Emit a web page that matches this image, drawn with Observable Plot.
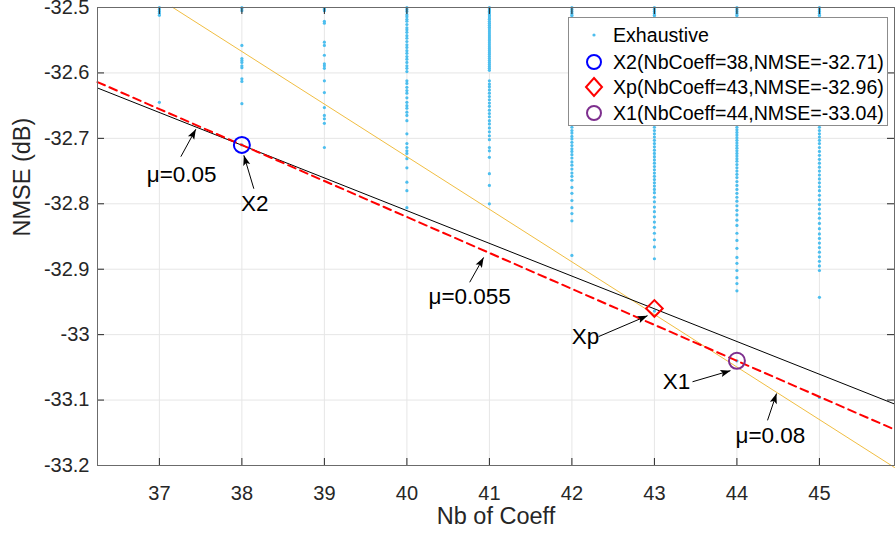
<!DOCTYPE html>
<html>
<head>
<meta charset="utf-8">
<script src="https://cdn.jsdelivr.net/npm/d3@7"></script>
<script src="https://cdn.jsdelivr.net/npm/@observablehq/plot@0.6"></script>
<style>
  html, body { margin: 0; padding: 0; background: #fff; }
  #wrap { position: relative; width: 895px; height: 540px; font-family: 'Liberation Sans', Arial, sans-serif; }
  .legend { position: absolute; left: 568px; top: 17px; width: 320px; height: 109px; border: 1px solid #8c8c8c; background: #fff; box-sizing: border-box; }
  .row { position: absolute; left: 0; height: 24px; width: 100%; }
  .row svg { position: absolute; left: 14px; top: 1px; }
  .row span { position: absolute; left: 44px; top: 0; font-size: 19.6px; line-height: 24px; color: #000; white-space: nowrap; }
</style>
</head>
<body>
<div id="wrap"></div>
<script>
// ---- axes ----
const xTicks = [37, 38, 39, 40, 41, 42, 43, 44, 45];
const xTickLabels = ["37", "38", "39", "40", "41", "42", "43", "44", "45"];
const yTicks = [-32.5, -32.6, -32.7, -32.8, -32.9, -33, -33.1, -33.2];
const yTickLabels = ["-32.5", "-32.6", "-32.7", "-32.8", "-32.9", "-33", "-33.1", "-33.2"];
const xDomain = [36.25, 45.91];
const yDomain = [-33.2, -32.5];

// ---- exhaustive search results (NMSE per NbCoeff column) ----
const nmse37 = [-32.500, -32.503, -32.506, -32.509, -32.512, -32.645];
const nmse38 = [-32.500, -32.502, -32.505, -32.558, -32.578, -32.581, -32.584, -32.589, -32.592, -32.609, -32.613, -32.647, -32.710];
const nmse39 = [-32.502, -32.503, -32.505, -32.521, -32.524, -32.553, -32.558, -32.573, -32.586, -32.589, -32.593, -32.612, -32.630, -32.653, -32.665, -32.670, -32.677, -32.714];
const nmse40 = [-32.500, -32.503, -32.506, -32.511, -32.514, -32.518, -32.521, -32.526, -32.531, -32.534, -32.538, -32.543, -32.547, -32.552, -32.557, -32.561, -32.566, -32.570, -32.575, -32.579, -32.584, -32.589, -32.593, -32.598, -32.612, -32.616, -32.622, -32.627, -32.631, -32.638, -32.645, -32.650, -32.654, -32.660, -32.665, -32.673, -32.693, -32.708, -32.714, -32.719, -32.723, -32.731, -32.745, -32.767, -32.780, -32.806];
const nmse41 = [-32.500, -32.502, -32.504, -32.506, -32.508, -32.511, -32.513, -32.516, -32.518, -32.521, -32.524, -32.527, -32.530, -32.533, -32.536, -32.539, -32.542, -32.545, -32.548, -32.551, -32.554, -32.557, -32.560, -32.563, -32.566, -32.569, -32.572, -32.575, -32.578, -32.581, -32.584, -32.587, -32.590, -32.593, -32.596, -32.612, -32.617, -32.621, -32.626, -32.631, -32.636, -32.641, -32.646, -32.651, -32.657, -32.662, -32.667, -32.673, -32.678, -32.684, -32.690, -32.696, -32.702, -32.714, -32.719, -32.729, -32.754, -32.772, -32.800];
const nmse42 = [-32.500, -32.503, -32.506, -32.509, -32.512, -32.515, -32.683, -32.688, -32.692, -32.697, -32.701, -32.706, -32.711, -32.716, -32.720, -32.725, -32.730, -32.736, -32.741, -32.747, -32.753, -32.758, -32.764, -32.775, -32.784, -32.795, -32.806, -32.815, -32.826, -32.879];
const nmse43 = [-32.500, -32.503, -32.506, -32.509, -32.512, -32.515, -32.683, -32.688, -32.693, -32.698, -32.703, -32.708, -32.713, -32.718, -32.723, -32.728, -32.733, -32.738, -32.743, -32.748, -32.753, -32.758, -32.763, -32.768, -32.773, -32.778, -32.783, -32.790, -32.797, -32.805, -32.812, -32.820, -32.828, -32.836, -32.845, -32.855, -32.866, -32.884, -32.964];
const nmse44 = [-32.500, -32.503, -32.506, -32.509, -32.512, -32.515, -32.683, -32.687, -32.691, -32.695, -32.699, -32.703, -32.707, -32.711, -32.715, -32.719, -32.723, -32.727, -32.731, -32.735, -32.740, -32.745, -32.750, -32.755, -32.760, -32.766, -32.772, -32.778, -32.784, -32.790, -32.796, -32.803, -32.810, -32.817, -32.825, -32.833, -32.845, -32.856, -32.868, -32.882, -32.891, -32.902, -32.913, -32.922, -32.933, -33.040];
const nmse45 = [-32.500, -32.503, -32.506, -32.509, -32.512, -32.515, -32.683, -32.688, -32.693, -32.698, -32.703, -32.708, -32.714, -32.720, -32.726, -32.732, -32.738, -32.744, -32.750, -32.756, -32.762, -32.768, -32.774, -32.780, -32.787, -32.794, -32.801, -32.808, -32.815, -32.822, -32.830, -32.838, -32.846, -32.853, -32.860, -32.867, -32.874, -32.881, -32.888, -32.895, -32.902, -32.943, -33.096];
const columns = [37, 38, 39, 40, 41, 42, 43, 44, 45];
const columnValues = [nmse37, nmse38, nmse39, nmse40, nmse41, nmse42, nmse43, nmse44, nmse45];

// ---- fitted lines (endpoints) ----
const lineMu005X = [36.25, 45.91];
const lineMu005Y = [-32.623, -33.106];
const lineMu0055X = [36.25, 45.91];
const lineMu0055Y = [-32.614, -33.145];
const lineMu008X = [37.163, 45.91];
const lineMu008Y = [-32.5, -33.203];

// ---- highlighted points ----
const ptNames = ["X2", "Xp", "X1"];
const ptX = [38, 43, 44];
const ptY = [-32.71, -32.96, -33.04];
const legendLabels = ["Exhaustive", "X2(NbCoeff=38,NMSE=-32.71)", "Xp(NbCoeff=43,NMSE=-32.96)", "X1(NbCoeff=44,NMSE=-33.04)"];

// ---- annotations ----
const annText = ["μ=0.05", "X2", "μ=0.055", "Xp", "X1", "μ=0.08"];
const annX = [37.27, 38.157, 40.761, 42.165, 43.268, 44.406];
const annY = [-32.755, -32.800, -32.942, -33.004, -33.072, -33.154];
const arrX1 = [37.26, 38.145, 40.761, 42.323, 43.462, 44.371];
const arrY1 = [-32.728, -32.777, -32.920, -33.003, -33.072, -33.131];
const arrX2 = [37.442, 38.024, 40.930, 42.917, 43.922, 44.480];
const arrY2 = [-32.686, -32.726, -32.882, -32.971, -33.055, -33.090];

// build tables
const exhaustive = [];
columns.forEach((c, i) => columnValues[i].forEach(v => exhaustive.push({x: c, y: v})));
const mkLine = (xs, ys) => xs.map((x, i) => ({x, y: ys[i]}));
const points = ptNames.map((n, i) => ({name: n, x: ptX[i], y: ptY[i]}));
const anns = annText.map((t, i) => ({text: t, x: annX[i], y: annY[i]}));
const arrows = arrX1.map((x, i) => ({x1: x, y1: arrY1[i], x2: arrX2[i], y2: arrY2[i]}));

const blue = "#0000ff", red = "#ff0000", purple = "#7e2f8e", cyan = "#4dbeee", orange = "#edb120";
const gridColor = "#e6e6e6", axisColor = "#262626";

const baseOptions = {
  width: 895,
  height: 540,
  marginLeft: 97,
  marginRight: 1,
  marginTop: 7,
  marginBottom: 75,
  style: {fontFamily: "'Liberation Sans', Arial, sans-serif", fontSize: "20px", color: axisColor, background: "#fff", overflow: "visible"},
  x: {domain: xDomain, ticks: xTicks, tickSize: 0, tickPadding: 20, tickFormat: d => xTickLabels[xTicks.indexOf(d)], label: null},
  y: {domain: yDomain, ticks: yTicks, tickSize: 0, tickPadding: 8, tickFormat: d => yTickLabels[yTicks.findIndex(t => Math.abs(t - d) < 1e-9)], label: null}
};

// first pass: obtain the scales to orient the filled arrowheads on screen
const probe = Plot.plot({...baseOptions, marks: [Plot.frame()]});
const sx = probe.scale("x"), sy = probe.scale("y");
arrows.forEach(a => {
  const dx = sx.apply(a.x2) - sx.apply(a.x1);
  const dy = sy.apply(a.y2) - sy.apply(a.y1);
  a.angle = Math.atan2(dx, -dy) * 180 / Math.PI;
});
const arrowHead = {
  draw(ctx, size) {
    ctx.moveTo(0, 0);
    ctx.lineTo(-3.6, 10);
    ctx.lineTo(0, 8);
    ctx.lineTo(3.6, 10);
    ctx.closePath();
  }
};

const chart = Plot.plot({
  ...baseOptions,
  marks: [
    Plot.ruleX(xTicks, {x: d => d, stroke: gridColor, strokeWidth: 1}),
    Plot.ruleY(yTicks, {y: d => d, stroke: gridColor, strokeWidth: 1}),
    Plot.dot(exhaustive, {x: "x", y: "y", r: 1.6, fill: cyan, stroke: "none"}),
    Plot.line(mkLine(lineMu008X, lineMu008Y), {x: "x", y: "y", stroke: orange, strokeWidth: 1, strokeOpacity: 0.85}),
    Plot.line(mkLine(lineMu005X, lineMu005Y), {x: "x", y: "y", stroke: "#000", strokeWidth: 1}),
    Plot.line(mkLine(lineMu0055X, lineMu0055Y), {x: "x", y: "y", stroke: red, strokeWidth: 2, strokeDasharray: "8,5"}),
    Plot.dot(points.filter(d => d.name === "X2"), {x: "x", y: "y", r: 8, stroke: blue, strokeWidth: 2, fill: "none"}),
    Plot.dot(points.filter(d => d.name === "Xp"), {x: "x", y: "y", r: 7.5, symbol: "diamond2", stroke: red, strokeWidth: 2, fill: "none"}),
    Plot.dot(points.filter(d => d.name === "X1"), {x: "x", y: "y", r: 8, stroke: purple, strokeWidth: 2, fill: "none"}),
    Plot.link(arrows, {x1: "x1", y1: "y1", x2: "x2", y2: "y2", stroke: "#000", strokeWidth: 1}),
    Plot.dot(arrows, {x: "x2", y: "y2", symbol: arrowHead, rotate: "angle", r: 4, fill: "#000", stroke: "none"}),
    Plot.text(anns, {x: "x", y: "y", text: "text", fontSize: 22.5, fill: "#000", textAnchor: "middle", lineAnchor: "middle"}),
    // inward tick marks on all four sides
    Plot.tickX(xTicks, {x: d => d, insetTop: 451, stroke: axisColor}),
    Plot.tickX(xTicks, {x: d => d, insetBottom: 451, stroke: axisColor}),
    Plot.tickY(yTicks, {y: d => d, insetRight: 790, stroke: axisColor}),
    Plot.tickY(yTicks, {y: d => d, insetLeft: 790, stroke: axisColor}),
    Plot.frame({stroke: "#6b6b6b", strokeWidth: 1}),
    Plot.text(["Nb of Coeff"], {frameAnchor: "bottom", dy: 58, fontSize: 23.5, fill: axisColor}),
    Plot.text(["NMSE (dB)"], {frameAnchor: "left", dx: -75, rotate: -90, fontSize: 23.5, fill: axisColor})
  ]
});

const wrap = document.getElementById("wrap");
wrap.appendChild(chart);

// legend overlay
const legend = document.createElement("div");
legend.className = "legend";
const rowTops = [5, 32, 57, 83];
const svgNS = "http://www.w3.org/2000/svg";
legendLabels.forEach((lab, i) => {
  const row = document.createElement("div");
  row.className = "row";
  row.style.top = rowTops[i] + "px";
  const s = document.createElementNS(svgNS, "svg");
  s.setAttribute("width", 22); s.setAttribute("height", 22);
  let el;
  if (i === 0) {
    el = document.createElementNS(svgNS, "circle");
    el.setAttribute("cx", 11); el.setAttribute("cy", 11); el.setAttribute("r", 1.6);
    el.setAttribute("fill", cyan);
  } else if (i === 2) {
    el = document.createElementNS(svgNS, "path");
    el.setAttribute("d", "M11,2 L19,11 L11,20 L3,11 Z");
    el.setAttribute("fill", "none"); el.setAttribute("stroke", red); el.setAttribute("stroke-width", 2);
  } else {
    el = document.createElementNS(svgNS, "circle");
    el.setAttribute("cx", 11); el.setAttribute("cy", 11); el.setAttribute("r", 7);
    el.setAttribute("fill", "none"); el.setAttribute("stroke", i === 1 ? blue : purple); el.setAttribute("stroke-width", 2);
  }
  s.appendChild(el);
  row.appendChild(s);
  const sp = document.createElement("span");
  sp.textContent = lab;
  row.appendChild(sp);
  legend.appendChild(row);
});
wrap.appendChild(legend);
</script>
</body>
</html>
